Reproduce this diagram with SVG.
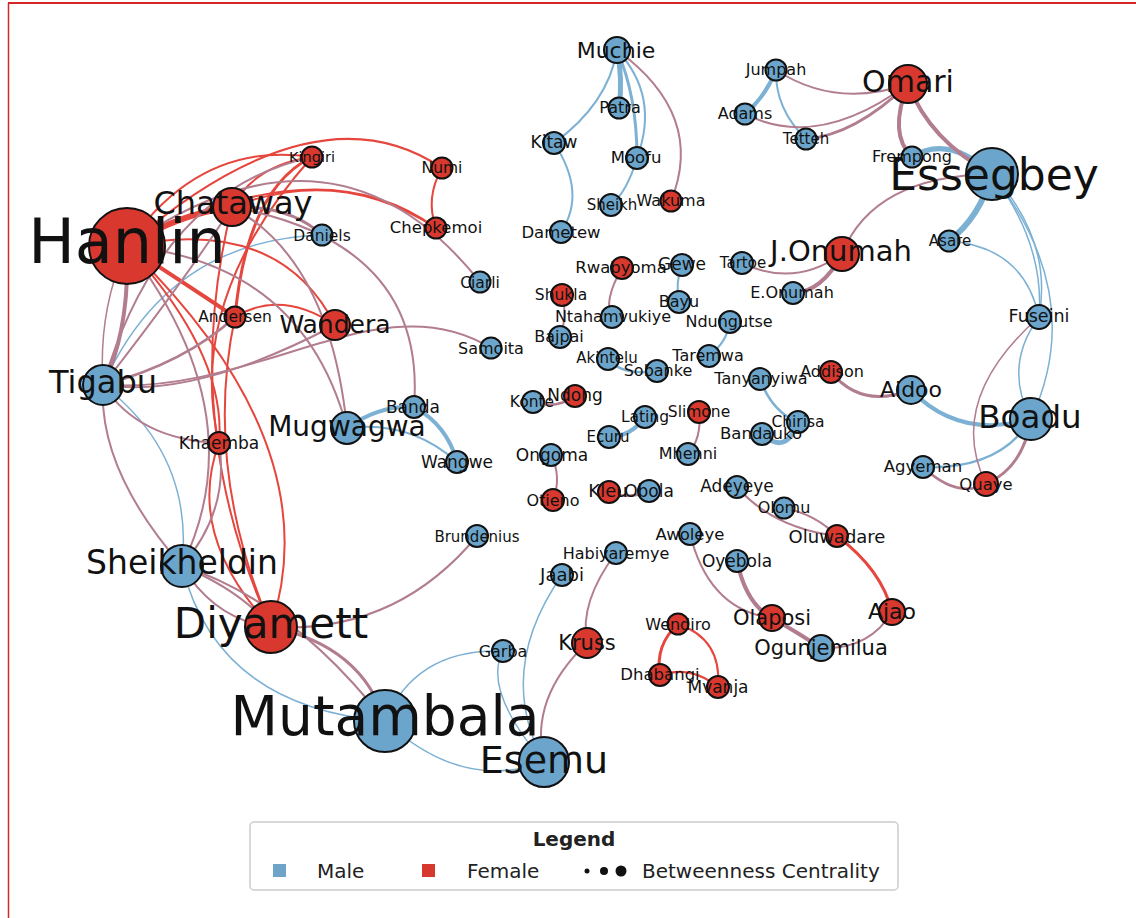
<svg xmlns="http://www.w3.org/2000/svg" width="1136" height="918" viewBox="0 0 1136 918">
<style>
.e{fill:none;stroke-linecap:round}
.r{stroke:#e5463d}
.b{stroke:#7cb1d4}
.m{stroke:#b27d8e}
.f{fill:#d8382e;stroke:#111;stroke-width:2}
.ml{fill:#6ba5cb;stroke:#111;stroke-width:2}
.t{font-family:"DejaVu Sans",sans-serif;fill:#111;text-anchor:middle}
.lg{font-family:"DejaVu Sans",sans-serif;fill:#222;font-size:20px}
</style>
<rect width="1136" height="918" fill="#fff"/>
<g id="frame" fill="none" stroke="#d62728">
<line x1="8" y1="3" x2="1136" y2="3" stroke-width="2"/>
<line x1="8.5" y1="3" x2="8.5" y2="918" stroke-width="1.5"/>
</g>
<g id="connectors">
<path class="e b" stroke-width="5" d="M617,50 Q623,79 619,108"/>
<path class="e b" stroke-width="3" d="M617,50 Q637,96 637,158"/>
<path class="e b" stroke-width="2" d="M617,50 Q660,96 637,158"/>
<path class="e b" stroke-width="2" d="M617,50 Q608,104 554,143"/>
<path class="e b" stroke-width="2" d="M554,143 Q587,193 561,232"/>
<path class="e b" stroke-width="2" d="M637,158 Q627,192 611,205"/>
<path class="e b" stroke-width="4" d="M776,70 Q766,96 745,114"/>
<path class="e b" stroke-width="2" d="M776,70 Q775,109 806,139"/>
<path class="e b" stroke-width="5" d="M912,157 Q948,134 992,174"/>
<path class="e b" stroke-width="6" d="M992,174 Q980,217 949,241"/>
<path class="e b" stroke-width="1.5" d="M992,174 Q1045,244 1039,317"/>
<path class="e b" stroke-width="1.5" d="M992,174 Q1053,240 1039,317"/>
<path class="e b" stroke-width="1.5" d="M992,174 Q1088,296 1031,419"/>
<path class="e b" stroke-width="1.5" d="M949,241 Q1024,247 1039,317"/>
<path class="e b" stroke-width="1.5" d="M1039,317 Q1003,366 1031,419"/>
<path class="e b" stroke-width="4" d="M911,390 Q959,440 1031,419"/>
<path class="e b" stroke-width="2.5" d="M1031,419 Q1000,470 923,467"/>
<path class="e b" stroke-width="2" d="M682,265 Q675,283 679,302"/>
<path class="e b" stroke-width="2" d="M730,322 Q727,342 709,356"/>
<path class="e b" stroke-width="2.5" d="M608,359 Q622,376 657,371"/>
<path class="e b" stroke-width="4" d="M609,437 Q632,436 645,417"/>
<path class="e b" stroke-width="2.5" d="M760,379 Q772,412 798,422"/>
<path class="e b" stroke-width="5" d="M762,434 Q786,456 798,422"/>
<path class="e b" stroke-width="1.5" d="M562,575 Q495,671 544,762"/>
<path class="e b" stroke-width="1.5" d="M503,651 Q482,690 544,762"/>
<path class="e b" stroke-width="1.5" d="M503,651 Q416,648 385,721"/>
<path class="e b" stroke-width="1.5" d="M385,721 Q462,792 544,762"/>
<path class="e b" stroke-width="1.5" d="M103,385 Q168,240 322,235"/>
<path class="e b" stroke-width="1.5" d="M103,385 Q194,455 182,566"/>
<path class="e b" stroke-width="1.5" d="M182,566 Q217,707 385,721"/>
<path class="e b" stroke-width="4" d="M347,428 Q380,405 414,407"/>
<path class="e b" stroke-width="2" d="M347,428 Q410,420 457,462"/>
<path class="e b" stroke-width="4" d="M414,407 Q447,425 457,462"/>
<path class="e r" stroke-width="6" d="M127,246 Q178,214 232,207"/>
<path class="e r" stroke-width="2" d="M127,246 Q200,140 312,157"/>
<path class="e r" stroke-width="2" d="M232,207 Q255,165 312,157"/>
<path class="e r" stroke-width="2" d="M127,246 Q316,83 442,168"/>
<path class="e r" stroke-width="2" d="M127,246 Q319,143 436,228"/>
<path class="e r" stroke-width="2" d="M232,207 Q340,165 436,228"/>
<path class="e r" stroke-width="2" d="M442,168 Q425,198 436,228"/>
<path class="e r" stroke-width="3" d="M312,157 Q247,189 235,317"/>
<path class="e r" stroke-width="2" d="M312,157 Q185,300 219,443"/>
<path class="e r" stroke-width="4" d="M127,246 Q195,290 235,317"/>
<path class="e r" stroke-width="2" d="M127,246 Q279,215 335,325"/>
<path class="e r" stroke-width="2" d="M235,317 Q281,289 335,325"/>
<path class="e r" stroke-width="2" d="M127,246 Q227,355 219,443"/>
<path class="e r" stroke-width="2" d="M127,246 Q331,444 271,627"/>
<path class="e r" stroke-width="2" d="M232,207 Q178,423 271,627"/>
<path class="e r" stroke-width="2" d="M235,317 Q203,468 271,627"/>
<path class="e r" stroke-width="2" d="M219,443 Q185,535 271,627"/>
<path class="e r" stroke-width="3" d="M837,536 Q882,570 892,612"/>
<path class="e r" stroke-width="3" d="M678,624 Q655,645 660,675"/>
<path class="e r" stroke-width="2" d="M678,624 Q722,639 718,687"/>
<path class="e r" stroke-width="2" d="M660,675 Q691,665 718,687"/>
<path class="e m" stroke-width="2" d="M617,50 Q706,115 671,201"/>
<path class="e m" stroke-width="2" d="M776,70 Q836,109 908,84"/>
<path class="e m" stroke-width="2" d="M745,114 Q818,151 908,84"/>
<path class="e m" stroke-width="3" d="M806,139 Q855,135 908,84"/>
<path class="e m" stroke-width="4" d="M908,84 Q888,134 912,157"/>
<path class="e m" stroke-width="4" d="M908,84 Q930,141 992,174"/>
<path class="e m" stroke-width="2" d="M992,174 Q873,176 842,254"/>
<path class="e m" stroke-width="2" d="M742,263 Q794,288 842,254"/>
<path class="e m" stroke-width="4" d="M793,293 Q822,292 842,254"/>
<path class="e m" stroke-width="1.5" d="M1039,317 Q945,400 986,484"/>
<path class="e m" stroke-width="3" d="M831,372 Q861,409 911,390"/>
<path class="e m" stroke-width="3" d="M1031,419 Q1023,468 986,484"/>
<path class="e m" stroke-width="2.5" d="M923,467 Q957,499 986,484"/>
<path class="e m" stroke-width="2" d="M622,268 Q603,301 612,317"/>
<path class="e m" stroke-width="2" d="M562,295 Q568,316 560,337"/>
<path class="e m" stroke-width="2.5" d="M533,402 Q556,410 575,396"/>
<path class="e m" stroke-width="2" d="M699,412 Q702,438 688,454"/>
<path class="e m" stroke-width="2" d="M551,455 Q562,477 553,500"/>
<path class="e m" stroke-width="2.5" d="M609,492 Q629,500 649,491"/>
<path class="e m" stroke-width="2" d="M737,487 Q773,528 837,536"/>
<path class="e m" stroke-width="2" d="M784,508 Q815,514 837,536"/>
<path class="e m" stroke-width="2" d="M892,612 Q869,650 821,648"/>
<path class="e m" stroke-width="2" d="M690,534 Q709,610 772,618"/>
<path class="e m" stroke-width="4" d="M737,561 Q746,604 772,618"/>
<path class="e m" stroke-width="4" d="M772,618 Q800,634 821,648"/>
<path class="e m" stroke-width="2" d="M616,553 Q579,602 587,643"/>
<path class="e m" stroke-width="2" d="M587,643 Q529,698 544,762"/>
<path class="e m" stroke-width="2" d="M477,536 Q396,634 271,627"/>
<path class="e m" stroke-width="3" d="M271,627 Q362,646 385,721"/>
<path class="e m" stroke-width="2" d="M182,566 Q215,620 271,627"/>
<path class="e m" stroke-width="2" d="M182,566 Q240,590 271,627"/>
<path class="e m" stroke-width="2" d="M182,566 Q290,600 385,721"/>
<path class="e m" stroke-width="2" d="M127,246 Q335,100 480,282"/>
<path class="e m" stroke-width="3" d="M232,207 Q290,205 322,235"/>
<path class="e m" stroke-width="2" d="M103,385 Q160,190 312,157"/>
<path class="e m" stroke-width="4" d="M127,246 Q130,330 103,385"/>
<path class="e m" stroke-width="1.5" d="M127,246 Q98,310 103,385"/>
<path class="e m" stroke-width="2" d="M232,207 Q185,280 103,385"/>
<path class="e m" stroke-width="2.5" d="M235,317 Q185,363 103,385"/>
<path class="e m" stroke-width="2" d="M335,325 Q195,399 103,385"/>
<path class="e m" stroke-width="2" d="M103,385 C260,395 380,280 491,348"/>
<path class="e m" stroke-width="2" d="M232,207 Q427,243 414,407"/>
<path class="e m" stroke-width="2" d="M127,246 Q303,263 347,428"/>
<path class="e m" stroke-width="2" d="M232,207 Q330,260 347,428"/>
<path class="e m" stroke-width="2" d="M103,385 Q139,440 219,443"/>
<path class="e m" stroke-width="2" d="M219,443 Q230,510 182,566"/>
<path class="e m" stroke-width="2" d="M127,246 Q256,414 182,566"/>
<path class="e m" stroke-width="2" d="M103,385 Q98,470 182,566"/>
</g>
<g id="nodes">
<g id="n-hanlin"><circle class="f" cx="127" cy="246" r="38"/><text class="t" x="127" y="263" font-size="62">Hanlin</text></g>
<g id="n-mutambala"><circle class="ml" cx="385" cy="721" r="31"/><text class="t" x="385" y="735" font-size="55">Mutambala</text></g>
<g id="n-essegbey"><circle class="ml" cx="992" cy="174" r="26"/><text class="t" x="994" y="190" font-size="44">Essegbey</text></g>
<g id="n-diyamett"><circle class="f" cx="271" cy="627" r="26"/><text class="t" x="271" y="638" font-size="42">Diyamett</text></g>
<g id="n-esemu"><circle class="ml" cx="544" cy="762" r="25"/><text class="t" x="544" y="773" font-size="38">Esemu</text></g>
<g id="n-sheikheldin"><circle class="ml" cx="182" cy="566" r="21"/><text class="t" x="182" y="574" font-size="33">Sheikheldin</text></g>
<g id="n-boadu"><circle class="ml" cx="1031" cy="419" r="21"/><text class="t" x="1030" y="428" font-size="32.5">Boadu</text></g>
<g id="n-tigabu"><circle class="ml" cx="103" cy="385" r="20"/><text class="t" x="103" y="393" font-size="32">Tigabu</text></g>
<g id="n-chataway"><circle class="f" cx="232" cy="207" r="19"/><text class="t" x="233" y="214" font-size="32">Chataway</text></g>
<g id="n-omari"><circle class="f" cx="908" cy="84" r="19"/><text class="t" x="908" y="92" font-size="30">Omari</text></g>
<g id="n-jonumah"><circle class="f" cx="842" cy="254" r="17"/><text class="t" x="841" y="261" font-size="29">J.Onumah</text></g>
<g id="n-mugwagwa"><circle class="ml" cx="347" cy="428" r="16"/><text class="t" x="347" y="436" font-size="28">Mugwagwa</text></g>
<g id="n-wandera"><circle class="f" cx="335" cy="325" r="15"/><text class="t" x="335" y="333" font-size="25">Wandera</text></g>
<g id="n-kruss"><circle class="f" cx="587" cy="643" r="15"/><text class="t" x="587" y="650" font-size="21">Kruss</text></g>
<g id="n-aidoo"><circle class="ml" cx="911" cy="390" r="14"/><text class="t" x="911" y="397" font-size="22">Aidoo</text></g>
<g id="n-muchie"><circle class="ml" cx="617" cy="50" r="13"/><text class="t" x="616" y="58" font-size="22">Muchie</text></g>
<g id="n-olaposi"><circle class="f" cx="772" cy="618" r="13"/><text class="t" x="772" y="625" font-size="21">Olaposi</text></g>
<g id="n-ogunjemilua"><circle class="ml" cx="821" cy="648" r="13"/><text class="t" x="821" y="655" font-size="21">Ogunjemilua</text></g>
<g id="n-ajao"><circle class="f" cx="892" cy="612" r="13"/><text class="t" x="892" y="619" font-size="22">Ajao</text></g>
<g id="n-fuseini"><circle class="ml" cx="1039" cy="317" r="12"/><text class="t" x="1039" y="322" font-size="17.5">Fuseini</text></g>
<g id="n-quaye"><circle class="f" cx="986" cy="484" r="12"/><text class="t" x="986" y="490" font-size="16.5">Quaye</text></g>
<g id="n-agyeman"><circle class="ml" cx="923" cy="467" r="11"/><text class="t" x="923" y="472" font-size="16.5">Agyeman</text></g>
<g id="n-khaemba"><circle class="f" cx="219" cy="443" r="11"/><text class="t" x="219" y="449" font-size="17">Khaemba</text></g>
<g id="n-banda"><circle class="ml" cx="414" cy="407" r="11"/><text class="t" x="413" y="413" font-size="17">Banda</text></g>
<g id="n-wangwe"><circle class="ml" cx="457" cy="462" r="11"/><text class="t" x="457" y="468" font-size="17">Wangwe</text></g>
<g id="n-kingiri"><circle class="f" cx="312" cy="157" r="10.5"/><text class="t" x="312" y="162" font-size="14.5">Kingiri</text></g>
<g id="n-numi"><circle class="f" cx="442" cy="168" r="10.5"/><text class="t" x="442" y="173" font-size="15.5">Numi</text></g>
<g id="n-chepkemoi"><circle class="f" cx="436" cy="228" r="10.5"/><text class="t" x="436" y="233" font-size="16.5">Chepkemoi</text></g>
<g id="n-daniels"><circle class="ml" cx="322" cy="235" r="10.5"/><text class="t" x="322" y="241" font-size="15.5">Daniels</text></g>
<g id="n-ciarli"><circle class="ml" cx="480" cy="282" r="10.5"/><text class="t" x="480" y="288" font-size="15.5">Ciarli</text></g>
<g id="n-andersen"><circle class="f" cx="235" cy="317" r="10.5"/><text class="t" x="235" y="322" font-size="15.5">Andersen</text></g>
<g id="n-samoita"><circle class="ml" cx="491" cy="348" r="10.5"/><text class="t" x="491" y="354" font-size="16">Samoita</text></g>
<g id="n-garba"><circle class="ml" cx="503" cy="651" r="11"/><text class="t" x="503" y="657" font-size="16">Garba</text></g>
<g id="n-jaabi"><circle class="ml" cx="562" cy="575" r="11"/><text class="t" x="562" y="581" font-size="18">Jaabi</text></g>
<g id="n-brundenius"><circle class="ml" cx="477" cy="536" r="11"/><text class="t" x="477" y="542" font-size="15">Brundenius</text></g>
<g id="n-habiyaremye"><circle class="ml" cx="616" cy="553" r="11"/><text class="t" x="616" y="559" font-size="16">Habiyaremye</text></g>
<g id="n-wendiro"><circle class="f" cx="678" cy="624" r="10.5"/><text class="t" x="678" y="630" font-size="16">Wendiro</text></g>
<g id="n-dhabangi"><circle class="f" cx="660" cy="675" r="11"/><text class="t" x="660" y="680" font-size="16.5">Dhabangi</text></g>
<g id="n-mvanja"><circle class="f" cx="718" cy="687" r="11"/><text class="t" x="718" y="693" font-size="17">Mvanja</text></g>
<g id="n-oyebola"><circle class="ml" cx="737" cy="561" r="11"/><text class="t" x="737" y="567" font-size="17">Oyebola</text></g>
<g id="n-awoleye"><circle class="ml" cx="690" cy="534" r="11"/><text class="t" x="690" y="540" font-size="16.5">Awoleye</text></g>
<g id="n-oluwadare"><circle class="f" cx="837" cy="536" r="11"/><text class="t" x="837" y="543" font-size="18">Oluwadare</text></g>
<g id="n-olomu"><circle class="ml" cx="784" cy="508" r="10.5"/><text class="t" x="784" y="513" font-size="16">Olomu</text></g>
<g id="n-adeyeye"><circle class="ml" cx="737" cy="487" r="11"/><text class="t" x="737" y="492" font-size="17">Adeyeye</text></g>
<g id="n-kleu"><circle class="f" cx="609" cy="492" r="11"/><text class="t" x="608" y="497" font-size="18">Kleu</text></g>
<g id="n-obola"><circle class="ml" cx="649" cy="491" r="11"/><text class="t" x="649" y="497" font-size="17">Obola</text></g>
<g id="n-otieno"><circle class="f" cx="553" cy="500" r="11"/><text class="t" x="553" y="506" font-size="16">Otieno</text></g>
<g id="n-ongoma"><circle class="ml" cx="551" cy="455" r="11"/><text class="t" x="552" y="461" font-size="17">Ongoma</text></g>
<g id="n-konte"><circle class="ml" cx="533" cy="402" r="11"/><text class="t" x="532" y="407" font-size="15.5">Konte</text></g>
<g id="n-ndong"><circle class="f" cx="575" cy="396" r="11"/><text class="t" x="575" y="401" font-size="17">Ndong</text></g>
<g id="n-ecuru"><circle class="ml" cx="609" cy="437" r="11"/><text class="t" x="608" y="442" font-size="15">Ecuru</text></g>
<g id="n-lating"><circle class="ml" cx="645" cy="417" r="11"/><text class="t" x="645" y="422" font-size="15.5">Lating</text></g>
<g id="n-slimone"><circle class="f" cx="699" cy="412" r="11"/><text class="t" x="699" y="417" font-size="15.5">Slimone</text></g>
<g id="n-mhenni"><circle class="ml" cx="688" cy="454" r="11"/><text class="t" x="688" y="459" font-size="16">Mhenni</text></g>
<g id="n-akintelu"><circle class="ml" cx="608" cy="359" r="11"/><text class="t" x="607" y="363" font-size="15">Akintelu</text></g>
<g id="n-sobanke"><circle class="ml" cx="657" cy="371" r="11"/><text class="t" x="658" y="376" font-size="16">Sobanke</text></g>
<g id="n-bajpai"><circle class="ml" cx="560" cy="337" r="11"/><text class="t" x="559" y="342" font-size="16">Bajpai</text></g>
<g id="n-ntahamvukiye"><circle class="ml" cx="612" cy="317" r="11"/><text class="t" x="613" y="322" font-size="16">Ntahamvukiye</text></g>
<g id="n-shukla"><circle class="f" cx="562" cy="295" r="11"/><text class="t" x="561" y="300" font-size="15.5">Shukla</text></g>
<g id="n-rwabyoma"><circle class="f" cx="622" cy="268" r="11"/><text class="t" x="621" y="273" font-size="16.5">Rwabyoma</text></g>
<g id="n-gewe"><circle class="ml" cx="682" cy="265" r="11"/><text class="t" x="682" y="270" font-size="17">Gewe</text></g>
<g id="n-bayu"><circle class="ml" cx="679" cy="302" r="11"/><text class="t" x="679" y="307" font-size="16">Bayu</text></g>
<g id="n-tartoe"><circle class="ml" cx="742" cy="263" r="11"/><text class="t" x="743" y="268" font-size="15">Tartoe</text></g>
<g id="n-eonumah"><circle class="ml" cx="793" cy="293" r="11"/><text class="t" x="792" y="298" font-size="16">E.Onumah</text></g>
<g id="n-ndungutse"><circle class="ml" cx="730" cy="322" r="11"/><text class="t" x="729" y="327" font-size="16">Ndungutse</text></g>
<g id="n-taremwa"><circle class="ml" cx="709" cy="356" r="11"/><text class="t" x="708" y="361" font-size="16">Taremwa</text></g>
<g id="n-tanyanyiwa"><circle class="ml" cx="760" cy="379" r="11"/><text class="t" x="761" y="384" font-size="16">Tanyanyiwa</text></g>
<g id="n-addison"><circle class="f" cx="831" cy="372" r="11"/><text class="t" x="832" y="377" font-size="16">Addison</text></g>
<g id="n-chirisa"><circle class="ml" cx="798" cy="422" r="11"/><text class="t" x="798" y="427" font-size="15.5">Chirisa</text></g>
<g id="n-bandauko"><circle class="ml" cx="762" cy="434" r="11"/><text class="t" x="761" y="439" font-size="16.5">Bandauko</text></g>
<g id="n-asare"><circle class="ml" cx="949" cy="241" r="10.5"/><text class="t" x="950" y="246" font-size="15">Asare</text></g>
<g id="n-frempong"><circle class="ml" cx="912" cy="157" r="10.5"/><text class="t" x="912" y="162" font-size="16">Frempong</text></g>
<g id="n-tetteh"><circle class="ml" cx="806" cy="139" r="10.5"/><text class="t" x="806" y="144" font-size="15">Tetteh</text></g>
<g id="n-jumpah"><circle class="ml" cx="776" cy="70" r="10.5"/><text class="t" x="776" y="75" font-size="16">Jumpah</text></g>
<g id="n-adams"><circle class="ml" cx="745" cy="114" r="10.5"/><text class="t" x="745" y="119" font-size="16">Adams</text></g>
<g id="n-patra"><circle class="ml" cx="619" cy="108" r="10.5"/><text class="t" x="620" y="113" font-size="16">Patra</text></g>
<g id="n-kitaw"><circle class="ml" cx="554" cy="143" r="11"/><text class="t" x="554" y="148" font-size="17">Kitaw</text></g>
<g id="n-moofu"><circle class="ml" cx="637" cy="158" r="11"/><text class="t" x="636" y="163" font-size="16.5">Moofu</text></g>
<g id="n-sheikh"><circle class="ml" cx="611" cy="205" r="11"/><text class="t" x="612" y="210" font-size="15">Sheikh</text></g>
<g id="n-wakuma"><circle class="f" cx="671" cy="201" r="10.5"/><text class="t" x="671" y="206" font-size="16">Wakuma</text></g>
<g id="n-dametew"><circle class="ml" cx="561" cy="232" r="11"/><text class="t" x="561" y="238" font-size="16.5">Dametew</text></g>
</g>
<g id="legend">
<rect x="250" y="822" width="648" height="68" rx="4" fill="#fff" stroke="#cccccc" stroke-width="1.5"/>
<text class="lg" x="574" y="846" text-anchor="middle" font-weight="bold">Legend</text>
<rect x="273" y="864" width="13" height="13" fill="#6fa4c9"/>
<text class="lg" x="317" y="878">Male</text>
<rect x="422" y="864" width="13" height="13" fill="#d6382e"/>
<text class="lg" x="467" y="878">Female</text>
<circle cx="587" cy="871" r="2.5" fill="#111"/>
<circle cx="604" cy="871" r="4" fill="#111"/>
<circle cx="621" cy="871" r="5.5" fill="#111"/>
<text class="lg" x="642" y="878">Betweenness Centrality</text>
</g>
</svg>
